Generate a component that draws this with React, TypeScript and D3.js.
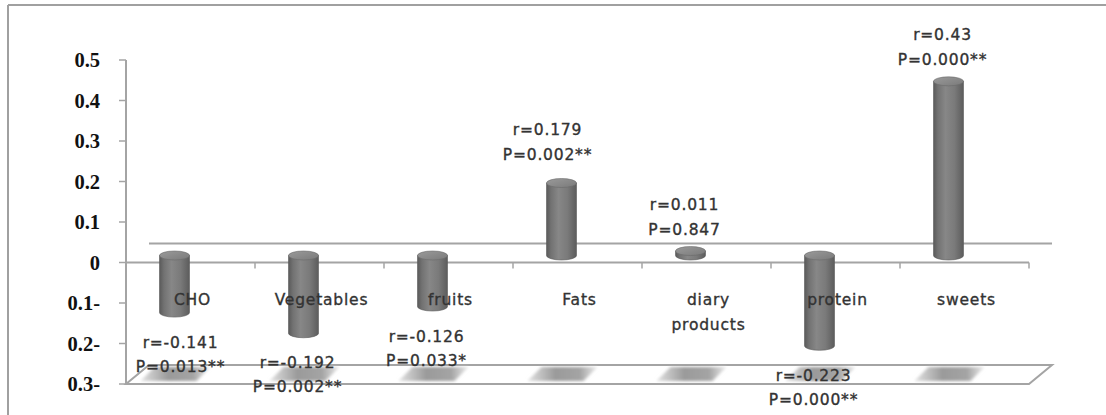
import React from 'react';
import * as d3 from 'd3';

// ---- data ----
const categories = ['CHO', 'Vegetables', 'fruits', 'Fats', 'diary products', 'protein', 'sweets'];
const rValues = [-0.141, -0.192, -0.126, 0.179, 0.011, -0.223, 0.43];
const rLabels = ['r=-0.141', 'r=-0.192', 'r=-0.126', 'r=0.179', 'r=0.011', 'r=-0.223', 'r=0.43'];
const pLabels = ['P=0.013**', 'P=0.002**', 'P=0.033*', 'P=0.002**', 'P=0.847', 'P=0.000**', 'P=0.000**'];
const yTicks = [0.5, 0.4, 0.3, 0.2, 0.1, 0, -0.1, -0.2, -0.3];
const yTickLabels = ['0.5', '0.4', '0.3', '0.2', '0.1', '0', '0.1-', '0.2-', '0.3-'];

// manual label nudges (layout only)
const labelNudgeX = [12, 0, 0, -8, 0, 0, 0];
const labelNudgeY = [0, 0, 0, -7, 0, 0, 0];

const W = 1106;
const H = 415;
const X0 = 126;
const X1 = 1029;
const DX = 23; // depth offset
const DY = -19;
const CYL_DX = -16;
const CYL_DY = -7;
const RX = 15;
const RY = 4.5;
const GRID = '#a4a4a4';
const TXT = '#333333';
const LABEL_FONT = '"DejaVu Sans", sans-serif';

export default function App() {
  const y = d3.scaleLinear().domain([-0.3, 0.5]).range([384, 60]);
  const x = d3.scaleBand<string>().domain(categories).range([X0, X1]);
  const bw = x.bandwidth();
  const y0 = y(0);
  const floorY = y(-0.3);

  const cyl = (i: number) => {
    const cx = (x(categories[i]) as number) + bw / 2 + CYL_DX;
    const v = rValues[i];
    const base = y0 + CYL_DY;
    const end = y(v) + CYL_DY;
    const top = Math.min(base, end);
    const bot = Math.max(base, end);
    return { cx, top, bot, end, v };
  };

  return (
    <svg
      width={W}
      height={H}
      viewBox={`0 0 ${W} ${H}`}
      style={{ position: 'absolute', left: 0, top: 0, background: '#fff' }}
    >
      <defs>
        <linearGradient id="cylBody" x1="0" x2="1" y1="0" y2="0">
          <stop offset="0%" stopColor="#5a5a5a" />
          <stop offset="15%" stopColor="#727272" />
          <stop offset="40%" stopColor="#878787" />
          <stop offset="70%" stopColor="#7a7a7a" />
          <stop offset="100%" stopColor="#5c5c5c" />
        </linearGradient>
        <linearGradient id="cylTop" x1="0" x2="1" y1="0" y2="1">
          <stop offset="0%" stopColor="#9a9a9a" />
          <stop offset="100%" stopColor="#7a7a7a" />
        </linearGradient>
        <linearGradient id="shadowGrad" x1="0" x2="1" y1="0" y2="0">
          <stop offset="0%" stopColor="#e2e2e2" />
          <stop offset="40%" stopColor="#9a9a9a" />
          <stop offset="75%" stopColor="#a4a4a4" />
          <stop offset="100%" stopColor="#ececec" />
        </linearGradient>
        <filter id="blur" x="-20%" y="-50%" width="140%" height="200%">
          <feGaussianBlur stdDeviation="1.8" />
        </filter>
      </defs>

      {/* outer frame (top + left) */}
      <line x1={8} x2={W} y1={5} y2={5} stroke="#a0a0a0" strokeWidth={2} />
      <line x1={8} x2={8} y1={5} y2={H} stroke="#a0a0a0" strokeWidth={2} />

      {/* floor */}
      <path
        d={`M${X0},${floorY} L${X1},${floorY} L${X1 + DX},${floorY + DY} L${X0 + DX},${floorY + DY} Z`}
        fill="#fff"
        stroke={GRID}
        strokeWidth={2}
      />
      {/* floor shadows */}
      {categories.map((c, i) => {
        const { cx } = cyl(i);
        const yb = floorY - 3;
        const yt = floorY + DY + 2;
        return (
          <polygon
            key={'sh' + c}
            points={`${cx - 34},${yb} ${cx - 20},${yt} ${cx + 36},${yt} ${cx + 22},${yb}`}
            fill="url(#shadowGrad)"
            filter="url(#blur)"
          />
        );
      })}

      {/* back zero line */}
      <line x1={X0 + DX} x2={X1 + DX} y1={y0 + DY} y2={y0 + DY} stroke={GRID} strokeWidth={2} />

      {/* y axis */}
      <line x1={X0} x2={X0} y1={y(0.5)} y2={floorY} stroke={GRID} strokeWidth={2} />
      {yTicks.map((t, i) => (
        <g key={'yt' + i}>
          <line x1={X0 - 7} x2={X0} y1={y(t)} y2={y(t)} stroke={GRID} strokeWidth={1.5} />
          <text
            x={100}
            y={y(t)}
            dy="0.35em"
            textAnchor="end"
            fontFamily='"Liberation Serif", "Times New Roman", serif'
            fontWeight="bold"
            fontSize={20.5}
            fill="#111"
          >
            {yTickLabels[i]}
          </text>
        </g>
      ))}

      {/* front zero line with category ticks */}
      <line x1={X0} x2={X1} y1={y0} y2={y0} stroke={GRID} strokeWidth={2} />
      {categories.map((c) => (
        <line
          key={'ct' + c}
          x1={(x(c) as number) + bw}
          x2={(x(c) as number) + bw}
          y1={y0}
          y2={y0 + 6}
          stroke={GRID}
          strokeWidth={1.5}
        />
      ))}

      {/* cylinders */}
      {categories.map((c, i) => {
        const { cx, top, bot } = cyl(i);
        const d =
          `M${cx - RX},${top} L${cx - RX},${bot} ` +
          `A${RX},${RY} 0 0 0 ${cx + RX},${bot} ` +
          `L${cx + RX},${top} Z`;
        return (
          <g key={'cy' + c}>
            <path d={d} fill="url(#cylBody)" stroke="#5a5a5a" strokeWidth={0.6} />
            <ellipse cx={cx} cy={top} rx={RX} ry={RY} fill="url(#cylTop)" stroke="#6a6a6a" strokeWidth={0.6} />
          </g>
        );
      })}

      {/* category labels */}
      {categories.map((c) => {
        const cx = (x(c) as number) + bw / 2 + 2;
        const parts = c === 'diary products' ? ['diary', 'products'] : [c];
        return (
          <text
            key={'cl' + c}
            x={cx}
            y={305}
            textAnchor="middle"
            fontFamily={LABEL_FONT}
            fontSize={15.5}
            letterSpacing={0.8}
            fill={TXT}
            stroke={TXT}
            strokeWidth={0.35}
          >
            {parts.map((p, k) => (
              <tspan key={k} x={cx} dy={k === 0 ? 0 : 25}>
                {p}
              </tspan>
            ))}
          </text>
        );
      })}

      {/* data labels */}
      {categories.map((c, i) => {
        const { cx, end, v } = cyl(i);
        const lx = cx - 6 + labelNudgeX[i];
        let rY: number;
        let pY: number;
        if (v < 0) {
          rY = end + 35;
          pY = rY + 24;
        } else {
          pY = end - 16;
          rY = pY - 25;
        }
        rY += labelNudgeY[i];
        pY += labelNudgeY[i];
        return (
          <g
            key={'dl' + c}
            fontFamily={LABEL_FONT}
            fontSize={15.5}
            letterSpacing={0.8}
            fill={TXT}
            stroke={TXT}
            strokeWidth={0.35}
            textAnchor="middle"
          >
            <text x={lx} y={rY}>{rLabels[i]}</text>
            <text x={lx} y={pY}>{pLabels[i]}</text>
          </g>
        );
      })}
    </svg>
  );
}
